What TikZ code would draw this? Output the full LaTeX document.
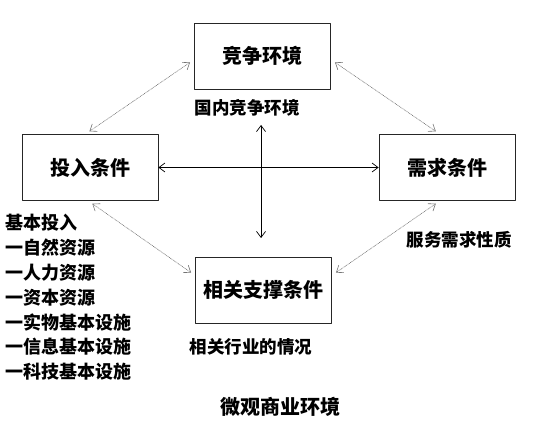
\documentclass[tikz,border=0pt]{standalone}
\usepackage{fontspec}
\newfontfamily\cjk{Noto Sans CJK SC}
\usetikzlibrary{arrows.meta}

\begin{document}
\begin{tikzpicture}[x=1pt,y=-1pt,line cap=round,line join=round,
  >={Straight Barb[length=6pt,width=9pt]},
  box/.style={draw=black!85,line width=0.7pt,minimum width=136pt,minimum height=66pt,
    font=\cjk\bfseries\fontsize{20}{24}\selectfont},
  lbl/.style={inner sep=0pt,font=\cjk\bfseries\fontsize{17.5}{21}\selectfont},
  item/.style={inner sep=0pt,anchor=west,font=\cjk\bfseries\fontsize{18}{22}\selectfont},
  link/.style={<->,line width=0.7pt},
  faint/.style={<->,draw=black!55,line width=0.6pt,densely dotted,shorten <=5pt,shorten >=5pt}]
\useasboundingbox[fill=white] (0,0) rectangle (557,422);
% boxes
\node[box] (comp) at (262.5,56) {竞争环境};
\node[box] (input) at (90,167.5) {投入条件};
\node[box] (demand) at (447,167.5) {需求条件};
\node[box] (support) at (263.5,290) {相关支撑条件};
% labels
\node[lbl] (domestic) at (247,108) {国内竞争环境};
\node[lbl] (service) at (459,240) {服务需求性质};
\node[lbl] (industry) at (251,347) {相关行业的情况};
\node[lbl,font=\cjk\bfseries\fontsize{20}{24}\selectfont] (title) at (280,407) {微观商业环境};
\foreach \t [count=\i from 0] in {基本投入,一自然资源,一人力资源,一资本资源,一实物基本设施,一信息基本设施,一科技基本设施}
  \node[item] (in\i) at (5,223+24.8*\i) {\t};
% arrows
\coordinate (vtop) at (261,125);
\coordinate (vbot) at (261,238);
\draw[link] (input) -- (demand);
\draw[link] (vtop) -- (vbot);
\draw[faint] (input.98) -- (comp.183);
\draw[faint] (comp.-3) -- (demand.102);
\draw[faint] (input.267) -- (support.168);
\draw[faint] (demand.258) -- (support.12);
\end{tikzpicture}
\end{document}
